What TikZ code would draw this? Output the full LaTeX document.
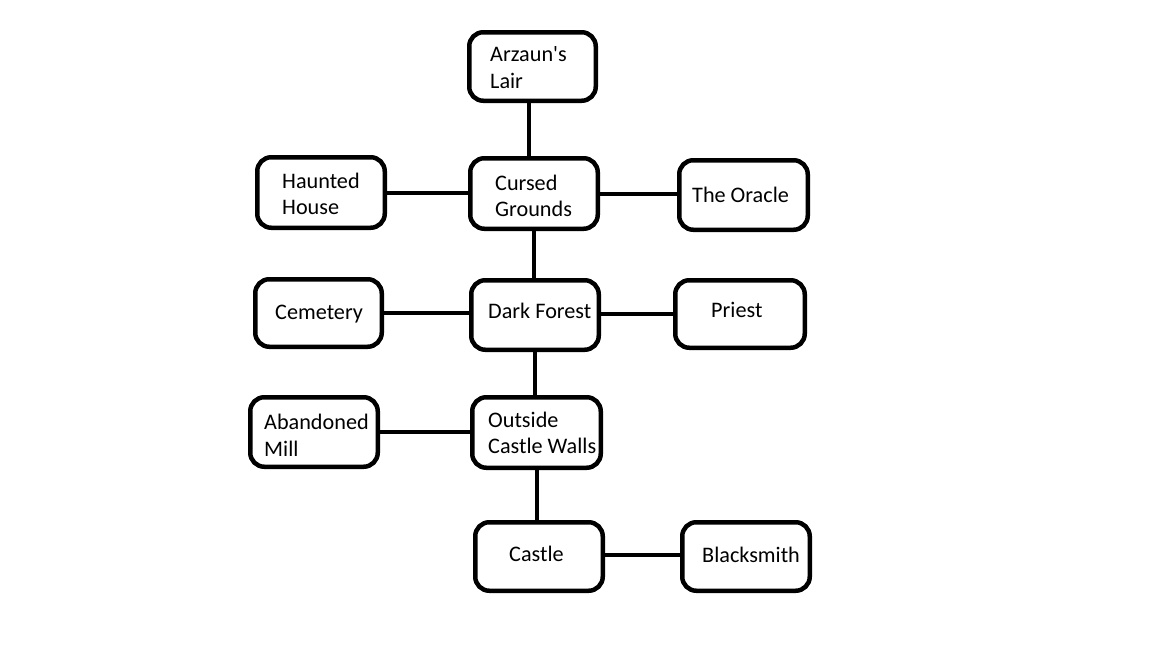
\documentclass[tikz,border=0pt]{standalone}
\usepackage{fontspec}
\setmainfont{Carlito}
\begin{document}
\begin{tikzpicture}[x=1pt,y=-1pt,
  box/.style={draw=black,line width=4.5pt,rounded corners=14pt,inner sep=0pt},
  lbl/.style={anchor=base west,inner sep=0pt,font=\fontsize{22.2}{26.5}\selectfont},
  link/.style={draw=black,line width=4pt}]
\useasboundingbox[fill=white] (0,0) rectangle (1152,648);
% boxes (path-centre sizes = outer - line width)
\node[box,minimum width=126.5pt,minimum height=68.5pt] (lair) at (532.5,66.5) {};
\node[box,minimum width=127.5pt,minimum height=70.5pt] (haunted) at (321,192.5) {};
\node[box,minimum width=127.5pt,minimum height=70.5pt] (cursed) at (534,193.5) {};
\node[box,minimum width=128.5pt,minimum height=69.5pt] (oracle) at (743.5,195) {};
\node[box,minimum width=126.5pt,minimum height=67.5pt] (cemetery) at (318.5,313) {};
\node[box,minimum width=127.5pt,minimum height=69.5pt] (forest) at (535,315) {};
\node[box,minimum width=129.5pt,minimum height=67.5pt] (priest) at (740,314) {};
\node[box,minimum width=127.5pt,minimum height=69.5pt] (mill) at (314,432) {};
\node[box,minimum width=128.5pt,minimum height=70.5pt] (ocw) at (536.5,432.5) {};
\node[box,minimum width=127.5pt,minimum height=68.5pt] (castle) at (539,556.5) {};
\node[box,minimum width=127.5pt,minimum height=68.5pt] (smith) at (746,556.5) {};
% labels
\node[lbl] (tlair1) at (490,61) {Arzaun\textquotesingle s};
\node[lbl] (tlair2) at (490,88) {Lair};
\node[lbl] (thaunted1) at (282,188) {Haunted};
\node[lbl] (thaunted2) at (282,214) {House};
\node[lbl] (tcursed1) at (495,190) {Cursed};
\node[lbl] (tcursed2) at (495,216) {Grounds};
\node[lbl] (toracle) at (692,202) {The Oracle};
\node[lbl] (tcem) at (275,319) {Cemetery};
\node[lbl] (tforest) at (488,318) {Dark Forest};
\node[lbl] (tpriest) at (711,317) {Priest};
\node[lbl] (tmill1) at (264,429) {Abandoned};
\node[lbl] (tmill2) at (264,456) {Mill};
\node[lbl] (tocw1) at (488,427) {Outside};
\node[lbl] (tocw2) at (488,453) {Castle Walls};
\node[lbl] (tcastle) at (509,561) {Castle};
\node[lbl] (tsmith) at (702,562) {Blacksmith};
% connectors
\draw[link] ([xshift=-3.5pt]lair.south) -- ([xshift=-3.5pt]lair.south |- cursed.north);
\draw[link] (haunted.east) -- (haunted.east -| cursed.west);
\draw[link] (cursed.east) -- (cursed.east -| oracle.west);
\draw[link] (cursed.south) -- (cursed.south |- forest.north);
\draw[link] (cemetery.east) -- (cemetery.east -| forest.west);
\draw[link] ([yshift=1.5pt]forest.east) -- ([yshift=1.5pt]forest.east -| priest.west);
\draw[link] (forest.south) -- (forest.south |- ocw.north);
\draw[link] (mill.east) -- (mill.east -| ocw.west);
\draw[link] (ocw.south) -- (ocw.south |- castle.north);
\draw[link] ([yshift=1.5pt]castle.east) -- ([yshift=1.5pt]castle.east -| smith.west);
\end{tikzpicture}
\end{document}
